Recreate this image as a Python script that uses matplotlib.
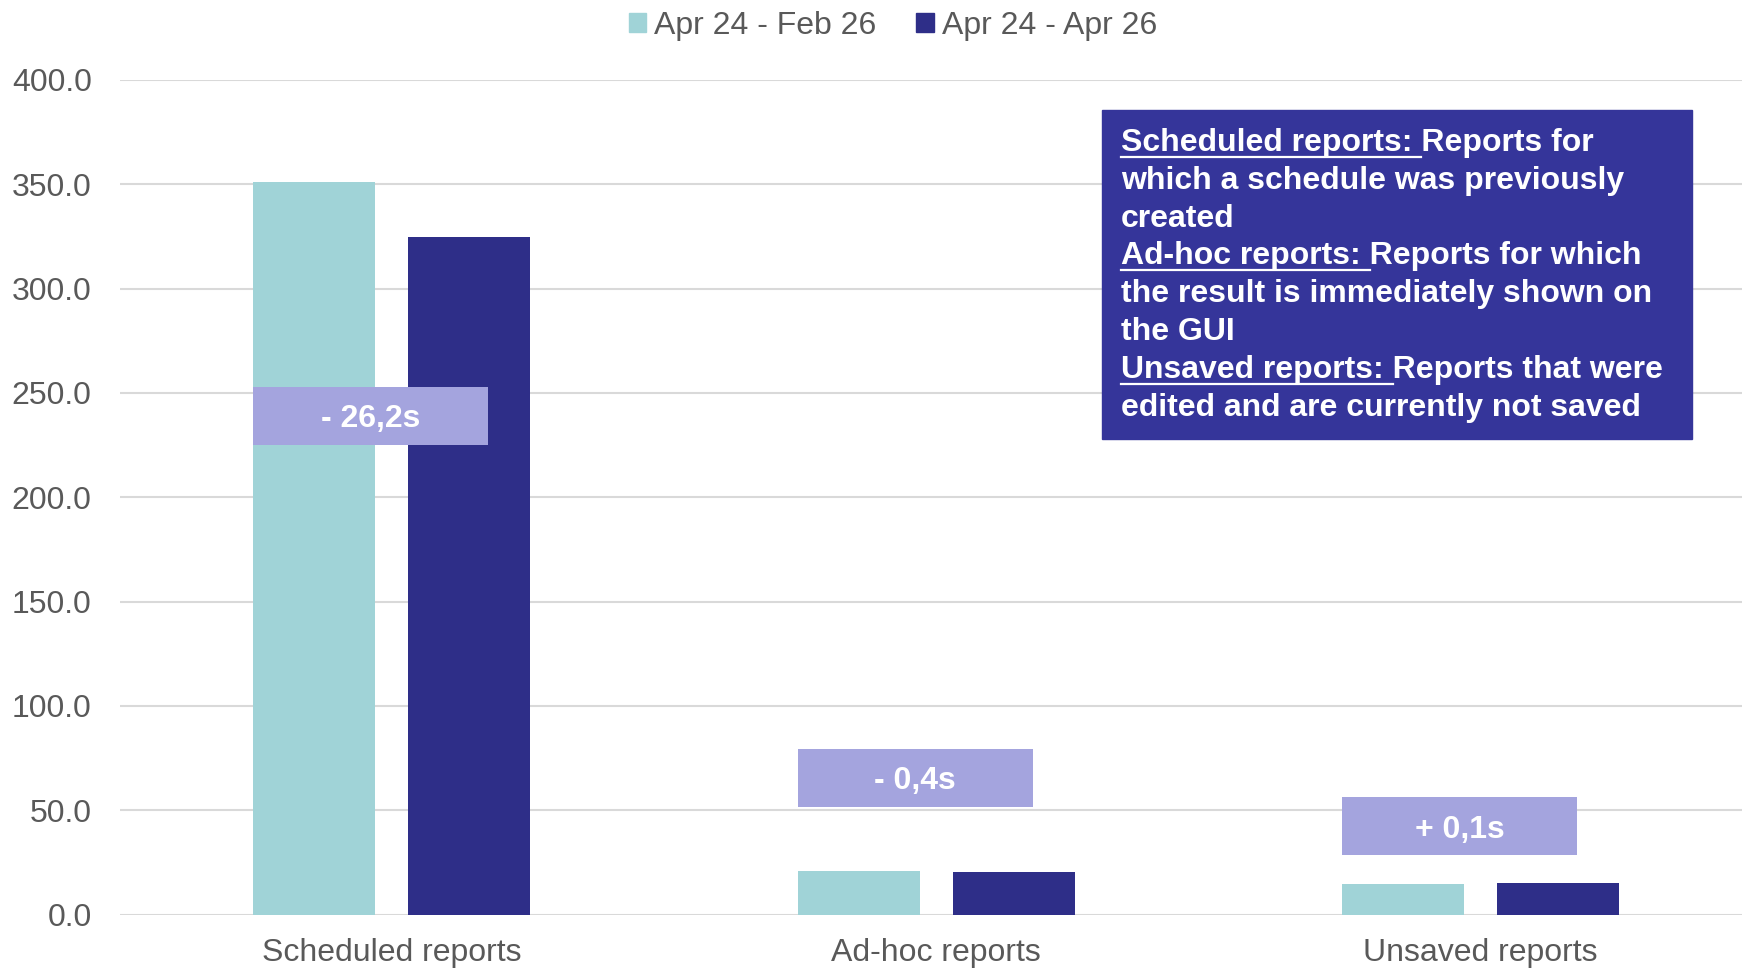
import matplotlib.pyplot as plt
import numpy as np
from matplotlib.patches import Patch, Rectangle

plt.rcParams['font.family'] = ['Liberation Sans', 'DejaVu Sans']

categories = ['Scheduled reports', 'Ad-hoc reports', 'Unsaved reports']
series_names = ['Apr 24 - Feb 26', 'Apr 24 - Apr 26']
feb26 = [350.9, 20.8, 14.8]
apr26 = [324.7, 20.4, 14.9]
delta_labels = ['- 26,2s', '- 0,4s', '+ 0,1s']
delta_y = [239.0, 65.5, 42.4]  # where the delta boxes sit

info_lines = [
    ('Scheduled reports: ', 'Reports for'),
    ('', 'which a schedule was previously'),
    ('', 'created'),
    ('Ad-hoc reports: ', 'Reports for which'),
    ('', 'the result is immediately shown on'),
    ('', 'the GUI'),
    ('Unsaved reports: ', 'Reports that were'),
    ('', 'edited and are currently not saved'),
]

c_light = '#a0d3d7'
c_dark = '#2e2e88'
c_box = '#a4a4de'
c_info = '#35359a'
c_text = '#595959'
fs = 23

W, H = 1742, 969
fig = plt.figure(figsize=(W / 100, H / 100), dpi=100)
ax = fig.add_axes([119.5 / W, 54.5 / H, (W - 119.5) / W, 834.5 / H])

x = np.arange(len(categories))
bw = 0.224
off = 0.1425
ax.bar(x - off, feb26, bw, color=c_light, zorder=3)
ax.bar(x + off, apr26, bw, color=c_dark, zorder=3)

# delta boxes
box_w, box_h = 0.432, 27.8
for i, (lab, yc) in enumerate(zip(delta_labels, delta_y)):
    left = x[i] - off - bw / 2
    ax.add_patch(Rectangle((left, yc - box_h / 2), box_w, box_h,
                           color=c_box, zorder=4, lw=0))
    ax.text(left + box_w / 2, yc, lab, ha='center', va='center_baseline',
            color='white', fontsize=fs, fontweight='bold', zorder=5)

ax.set_ylim(0, 400)
ax.set_xlim(-0.5, 2.48)
ax.set_yticks(np.arange(0, 401, 50))
ax.set_yticklabels([f'{v:.1f}' for v in np.arange(0, 401, 50)])
ax.set_xticks(x)
ax.set_xticklabels(categories)
ax.tick_params(axis='both', length=0, labelsize=fs, labelcolor=c_text)
ax.tick_params(axis='y', pad=20)
ax.tick_params(axis='x', pad=17)
ax.grid(axis='y', color='#d9d9d9', lw=1.5, zorder=0)
for s in ax.spines.values():
    s.set_visible(False)

handles = [Patch(color=c_light), Patch(color=c_dark)]
fig.legend(handles, series_names, loc='center', bbox_to_anchor=(893 / W, 1 - 26 / H),
           ncol=2, frameon=False, fontsize=fs, handlelength=0.55, handleheight=0.55,
           handletextpad=0.25, columnspacing=1.25, labelcolor=c_text)

# info box
fig.patches.append(Rectangle((1102 / W, 1 - 439 / H), 590 / W, 329 / H,
                             transform=fig.transFigure, color=c_info, zorder=5))
tx = 1121 / W
texts = []
for i, (u, rest) in enumerate(info_lines):
    yb = 1 - (151 + 37.8 * i) / H
    t = fig.text(tx, yb, u + rest, ha='left', va='baseline', color='white',
                 fontsize=fs, fontweight='bold', zorder=6)
    texts.append((t, u, yb))

fig.canvas.draw()
r = fig.canvas.get_renderer()
def width(s):
    tmp = fig.text(0, 0, s, fontsize=fs, fontweight='bold')
    w = tmp.get_window_extent(r).width
    tmp.remove()
    return w
sp = width('a a') - width('aa')
for t, u, yb in texts:
    if u:
        w = width(u.strip()) + sp
        y_line = yb - 6 / H
        fig.add_artist(plt.Line2D([tx, tx + w / W], [y_line, y_line], color='white',
                                  lw=1.6, transform=fig.transFigure, zorder=6))

fig.savefig('out.png', dpi=100)
